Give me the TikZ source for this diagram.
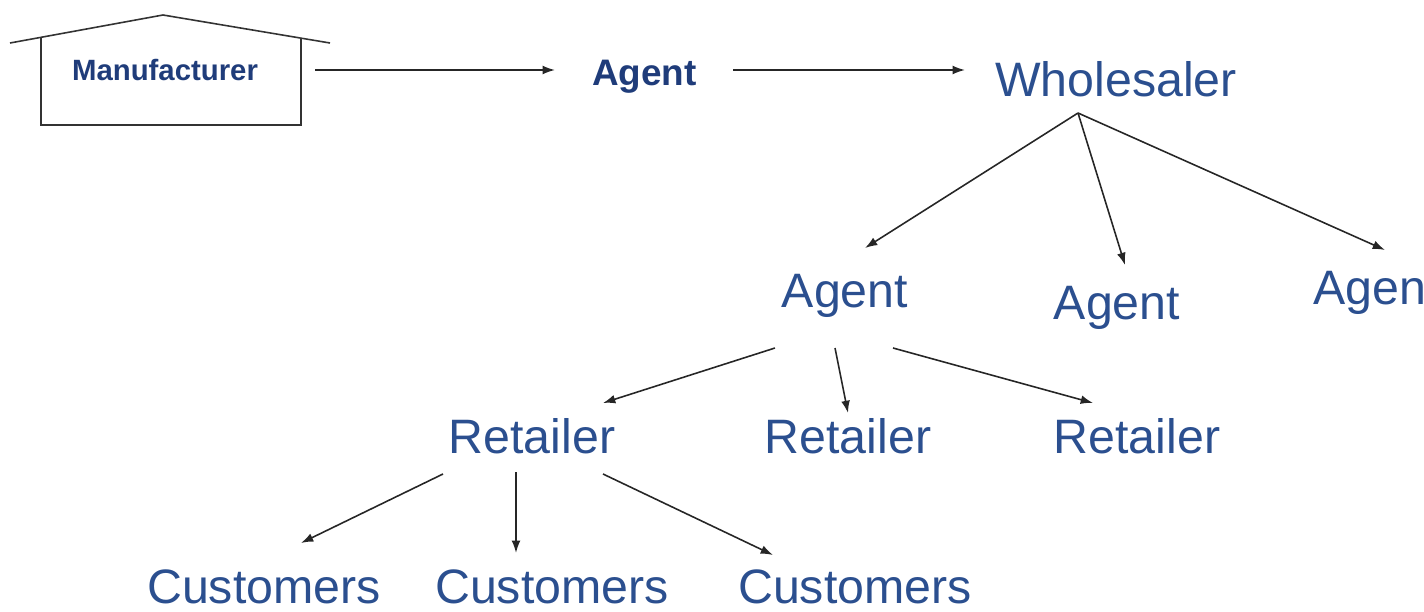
\documentclass[tikz,border=0pt]{standalone}
\usepackage{fontspec}
\setmainfont{Liberation Sans}
\usepackage{tikz}
\usetikzlibrary{arrows.meta, calc}
\definecolor{chainblue}{HTML}{2B4F8F}
\definecolor{darkblue}{HTML}{1F3C7A}
\tikzstyle{link-arrow} = [-{Latex[length=7pt, width=5pt]}, line width=0.9pt, draw=black!85]
\tikzstyle{tier} = [inner sep=0pt, anchor=base, text=chainblue, font=\fontsize{27.5}{30}\selectfont]
\tikzstyle{bold-tier} = [inner sep=0pt, anchor=base, text=darkblue, font=\bfseries\fontsize{21}{24}\selectfont]
\tikzstyle{house} = [line width=0.9pt, draw=black!80]

\begin{document}
\begin{tikzpicture}[x=0.02cm, y=-0.02cm]
  \useasboundingbox (0,0) rectangle (1424,612);

  % Nodes
  \node (manu) [bold-tier, font=\bfseries\fontsize{16.7}{20}\selectfont] at (165,80) {Manufacturer};
  \node (agt) [bold-tier] at (644.5,85) {Agent};
  \node (whole) [tier] at (1116,96) {Wholesaler};
  \node (agt1) [tier] at (845,307) {Agent};
  \node (agt2) [tier] at (1117,319) {Agent};
  \node (agt3) [tier, anchor=base west] at (1313,304) {Agen};
  \node (ret1) [tier] at (532,453) {Retailer};
  \node (ret2) [tier] at (848,453) {Retailer};
  \node (ret3) [tier] at (1137,453) {Retailer};
  \node (cus1) [tier] at (264,603) {Customers};
  \node (cus2) [tier] at (552,603) {Customers};
  \node (cus3) [tier] at (855,603) {Customers};

  % House round the manufacturer
  \draw[house] (41,38) -- (41,125) -- (301,125) -- (301,38);
  \draw[house] (10,43) -- (163,15) -- (330,43);

  % Arrows along the top
  \draw[link-arrow] ($(manu.base)+(150,-10)$) -- ($(agt.base)+(-89.5,-15)$);
  \draw[link-arrow] ($(agt.base)+(88.5,-15)$) -- ($(whole.base)+(-151,-26)$);

  % Wholesaler to agents
  \draw[link-arrow] ($(whole.base)+(-38,17)$) -- ($(agt1.base)+(20,-59)$);
  \draw[link-arrow] ($(whole.base)+(-38,17)$) -- ($(agt2.base)+(8,-54)$);
  \draw[link-arrow] ($(whole.base)+(-38,17)$) -- ($(agt3.base west)+(72,-54)$);

  % Agent to retailers
  \draw[link-arrow] ($(agt1.base)+(-70,41)$) -- ($(ret1.base)+(71,-50)$);
  \draw[link-arrow] ($(agt1.base)+(-10,41)$) -- ($(ret2.base)+(0,-40)$);
  \draw[link-arrow] ($(agt1.base)+(48,41)$) -- ($(ret3.base)+(-44,-50)$);

  % Retailer to customers
  \draw[link-arrow] ($(ret1.base)+(-89,21)$) -- ($(cus1.base)+(37,-60)$);
  \draw[link-arrow] ($(ret1.base)+(-16,19)$) -- ($(cus2.base)+(-36,-50)$);
  \draw[link-arrow] ($(ret1.base)+(71,21)$) -- ($(cus3.base)+(-82,-48)$);

\end{tikzpicture}
\end{document}
